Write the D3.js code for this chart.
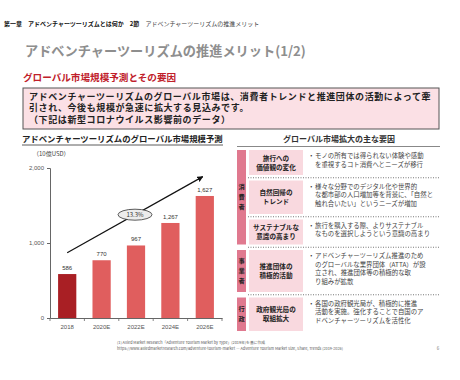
<!DOCTYPE html>
<html><head><meta charset="utf-8">
<script src="https://cdn.jsdelivr.net/npm/d3@7"></script>
<style>
body{margin:0;background:#fff;}
svg{display:block;font-family:"Noto Sans CJK JP","Noto Sans",sans-serif;}
</style></head>
<body>
<svg id="c" width="460" height="380"></svg>
<script>
// ---- data ----
const years = ["2018", "2020E", "2022E", "2024E", "2026E"];
const values = [586, 770, 967, 1267, 1627];
const valueLabels = ["586", "770", "967", "1,267", "1,627"];
const yTicks = [0, 1000, 2000];
const cagrLabel = "13.3%";
const arrowFrom = { cat: "2018", v: 870 };
const arrowTo = { cat: "2026E", v: 1885 };

const groups = ["消費者", "事業者", "行政"];
const rowGroup = [0, 0, 0, 1, 2];
const rowLabels = [
  ["旅行への", "価値観の変化"],
  ["自然回帰の", "トレンド"],
  ["サステナブルな", "意識の高まり"],
  ["推進団体の", "積極的活動"],
  ["政府観光局の", "取組拡大"]
];
const rowDescs = [
  ["モノの所有では得られない体験や感動", "を重視するコト消費へとニーズが移行"],
  ["様々な分野でのデジタル化や世界的", "な都市部の人口増加等を背景に、「自然と", "触れ合いたい」というニーズが増加"],
  ["旅行を購入する際、よりサステナブル", "なものを選択しようという意識の高まり"],
  ["アドベンチャーツーリズム推進のため", "のグローバルな業界団体（ATTA）が設", "立され、推進団体等の積極的な取", "り組みが拡散"],
  ["各国の政府観光局が、積極的に推進", "活動を実施。強化することで自国のア", "ドベンチャーツーリズムを活性化"]
];

// ---- drawing ----
const svg = d3.select("#c");

// header
const hdr = svg.append("text").attr("x", 4).attr("y", 26).attr("font-size", 6);
hdr.append("tspan").attr("font-weight", "bold").attr("fill", "#111").text("第一章　アドベンチャーツーリズムとは何か　");
hdr.append("tspan").attr("font-weight", "bold").attr("fill", "#111").text("2節　");
hdr.append("tspan").attr("fill", "#444").text("アドベンチャーツーリズムの推進メリット");

svg.append("text").attr("x", 25).attr("y", 56).attr("font-size", 13.2).attr("font-weight", "bold")
  .attr("fill", "#8e8e8e").text("アドベンチャーツーリズムの推進メリット(1/2)");

svg.append("text").attr("x", 23).attr("y", 81).attr("font-size", 9.6).attr("font-weight", "bold")
  .attr("fill", "#c0202a").text("グローバル市場規模予測とその要因");

svg.append("rect").attr("x", 23).attr("y", 88).attr("width", 416).attr("height", 41)
  .attr("fill", "#fbe0e5").attr("stroke", "#555").attr("stroke-width", 1);
const boxLines = [
  "アドベンチャーツーリズムのグローバル市場は、消費者トレンドと推進団体の活動によって牽",
  "引され、今後も規模が急速に拡大する見込みです。",
  "（下記は新型コロナウイルス影響前のデータ）"
];
svg.append("g").selectAll("text").data(boxLines).join("text")
  .attr("x", 29).attr("y", (d, i) => 99.5 + i * 11.8)
  .attr("font-size", 9).attr("letter-spacing", 0.6).attr("font-weight", "bold").attr("fill", "#222").text(d => d);

// left chart
svg.append("text").attr("x", 22).attr("y", 142).attr("font-size", 8.4).attr("font-weight", "bold")
  .attr("fill", "#222").text("アドベンチャーツーリズムのグローバル市場規模予測");
svg.append("line").attr("x1", 22).attr("x2", 223).attr("y1", 145).attr("y2", 145)
  .attr("stroke", "#333").attr("stroke-width", 0.8);
svg.append("text").attr("x", 33).attr("y", 156).attr("font-size", 6).attr("fill", "#444").text("（10億USD）");

const y = d3.scaleLinear().domain([0, 2000]).range([318, 168]);
const x = d3.scaleBand().domain(years).range([50, 222]).paddingInner(0.47).paddingOuter(0.235);

const yAxis = svg.append("g").attr("transform", "translate(50,0)")
  .call(d3.axisLeft(y).tickValues(yTicks).tickFormat(d3.format(",")).tickSize(3).tickPadding(3));
yAxis.select(".domain").attr("stroke", "#666");
yAxis.selectAll(".tick line").attr("stroke", "#666");
yAxis.selectAll("text").attr("font-size", 6).attr("fill", "#555").attr("font-family", "Liberation Sans, sans-serif");

const xAxis = svg.append("g").attr("transform", "translate(0,318)")
  .call(d3.axisBottom(x).tickSize(0).tickPadding(7));
xAxis.select(".domain").attr("stroke", "#666");
xAxis.selectAll("text").attr("font-size", 6).attr("fill", "#555").attr("font-family", "Liberation Sans, sans-serif");
const step = x.step();
const bounds = d3.range(years.length + 1).map(i => x.range()[0] + i * step);
svg.append("g").selectAll("line").data(bounds).join("line")
  .attr("x1", d => d).attr("x2", d => d).attr("y1", 318).attr("y2", 321)
  .attr("stroke", "#666").attr("stroke-width", 0.8);

svg.append("g").selectAll("rect").data(values).join("rect")
  .attr("x", (d, i) => x(years[i])).attr("width", x.bandwidth())
  .attr("y", d => y(d)).attr("height", d => y(0) - y(d))
  .attr("fill", (d, i) => i === 0 ? "#a91f24" : "#e05e5e");

svg.append("g").selectAll("text").data(values).join("text")
  .attr("x", (d, i) => x(years[i]) + x.bandwidth() / 2).attr("y", d => y(d) - 4)
  .attr("text-anchor", "middle").attr("font-size", 6).attr("fill", "#333")
  .attr("font-family", "Liberation Sans, sans-serif")
  .text((d, i) => valueLabels[i]);

// arrow
const defs = svg.append("defs");
defs.append("marker").attr("id", "ah").attr("viewBox", "0 0 10 10").attr("refX", 9).attr("refY", 5)
  .attr("markerWidth", 5).attr("markerHeight", 5).attr("orient", "auto")
  .append("path").attr("d", "M0,0L10,5L0,10z").attr("fill", "#111");
const ax1 = x(arrowFrom.cat) + x.bandwidth() / 2, ay1 = y(arrowFrom.v);
const ax2 = x(arrowTo.cat) + x.bandwidth() / 2 - 2, ay2 = y(arrowTo.v);
svg.append("line").attr("x1", ax1).attr("y1", ay1).attr("x2", ax2).attr("y2", ay2)
  .attr("stroke", "#111").attr("stroke-width", 1.2).attr("marker-end", "url(#ah)");
const ex = (ax1 + ax2) / 2, ey = (ay1 + ay2) / 2;
svg.append("ellipse").attr("cx", ex).attr("cy", ey).attr("rx", 17).attr("ry", 5.5)
  .attr("fill", "#ececec").attr("stroke", "#333").attr("stroke-width", 0.8);
svg.append("text").attr("x", ex).attr("y", ey + 2).attr("text-anchor", "middle")
  .attr("font-size", 6).attr("fill", "#333").text(cagrLabel);

// right panel
svg.append("text").attr("x", 339).attr("y", 142).attr("text-anchor", "middle")
  .attr("font-size", 8).attr("font-weight", "bold").attr("fill", "#333").text("グローバル市場拡大の主な要因");
svg.append("line").attr("x1", 237).attr("x2", 440).attr("y1", 146.5).attr("y2", 146.5)
  .attr("stroke", "#888").attr("stroke-width", 1.2);

const lh = 8.5, gap = 5.5;
let cy = 150;
const rows = rowDescs.map((d, i) => {
  const h = lh * d.length + 8;
  const r = { y0: cy, y1: cy + h, i };
  cy += h + gap;
  return r;
});

// group strips
groups.forEach((g, gi) => {
  const rs = rows.filter(r => rowGroup[r.i] === gi);
  const y0 = rs[0].y0, y1 = rs[rs.length - 1].y1;
  svg.append("rect").attr("x", 237).attr("y", y0).attr("width", 9).attr("height", y1 - y0).attr("fill", "#e0798f");
  const chars = Array.from(g);
  const mid = (y0 + y1) / 2;
  svg.append("g").selectAll("text").data(chars).join("text")
    .attr("x", 241.5).attr("y", (c, k) => mid + (k - (chars.length - 1) / 2) * 10 + 2.2)
    .attr("text-anchor", "middle").attr("font-size", 6.2).attr("font-weight", "bold").attr("fill", "#222").text(c => c);
});

rows.forEach(r => {
  svg.append("rect").attr("x", 249).attr("y", r.y0).attr("width", 54).attr("height", r.y1 - r.y0).attr("fill", "#f9d9df");
  const lab = rowLabels[r.i];
  const mid = (r.y0 + r.y1) / 2;
  svg.append("g").selectAll("text").data(lab).join("text")
    .attr("x", 276).attr("y", (d, k) => mid + (k - (lab.length - 1) / 2) * 9 + 2.5)
    .attr("text-anchor", "middle").attr("font-size", 6.6).attr("font-weight", "bold").attr("fill", "#222").text(d => d);
  const desc = rowDescs[r.i];
  svg.append("text").attr("x", 308).attr("y", r.y0 + 8).attr("font-size", 6.5).attr("fill", "#333").text("・");
  svg.append("g").selectAll("text").data(desc).join("text")
    .attr("x", 315).attr("y", (d, k) => r.y0 + 8 + k * lh)
    .attr("font-size", 6.4).attr("fill", "#444").text(d => d);
  if (r.i < rows.length - 1) {
    const sy = r.y1 + gap / 2;
    svg.append("line").attr("x1", 248).attr("x2", 440).attr("y1", sy).attr("y2", sy)
      .attr("stroke", "#555").attr("stroke-width", 0.8).attr("stroke-dasharray", "1,1.5");
  }
});

// footer
svg.append("text").attr("x", 117).attr("y", 344).attr("font-size", 3.8).attr("fill", "#555")
  .text("(1) Allied Market Research「Adventure Tourism Market by Type」(2019年)を基に作成");
svg.append("text").attr("x", 117).attr("y", 349.5).attr("font-size", 3.8).attr("fill", "#555")
  .text("https://www.alliedmarketresearch.com/adventure-tourism-market ― Adventure Tourism Market Size, Share, Trends (2019-2026)");
svg.append("text").attr("x", 438).attr("y", 350).attr("font-size", 4.5).attr("fill", "#777").attr("text-anchor", "middle").text("6");
</script>
</body></html>
